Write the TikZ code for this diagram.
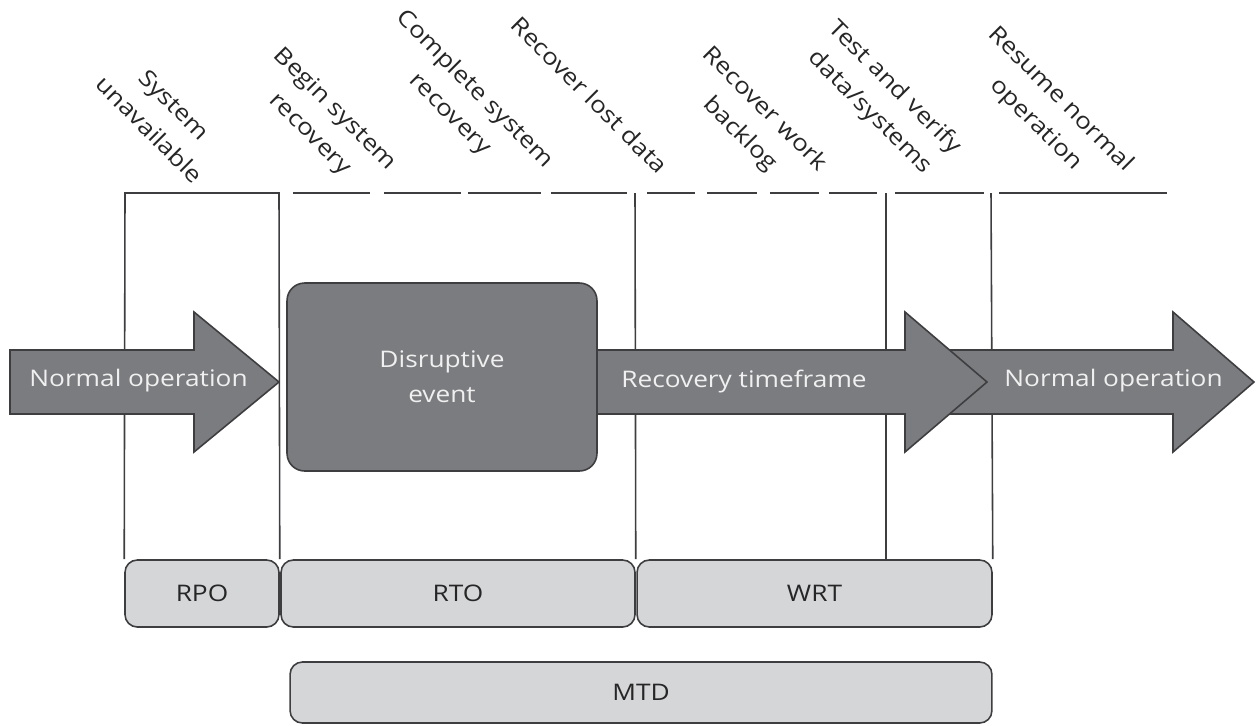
\documentclass[tikz,border=0pt]{standalone}
\usepackage{fontspec}
\setmainfont{Open Sans}[FakeStretch=1.15]
\usepackage{xcolor}
\usepackage{tikz}
\usetikzlibrary{positioning, calc}
\definecolor{arrowgray}{HTML}{7B7C7F}
\definecolor{edgegray}{HTML}{3E3E40}
\definecolor{boxgray}{HTML}{D5D6D8}
\definecolor{inkgray}{HTML}{262626}

\tikzset{
  divider/.style={draw=edgegray, line width=0.9pt},
  bigarrow/.style={fill=arrowgray, draw=edgegray, line width=0.9pt},
  arrowtext/.style={text=white!94!black, font=\fontsize{13}{16}\selectfont, inner sep=0pt},
  phasebox/.style={fill=boxgray, draw=edgegray, line width=0.9pt, rounded corners=7pt,
                   minimum height=1.34cm, text=inkgray, font=\fontsize{13}{16}\selectfont},
  milestone/.style={rotate=-45, align=center, inner sep=0pt, text=inkgray,
                    font=\fontsize{13}{20}\selectfont}
}

\begin{document}
\begin{tikzpicture}[x=0.02cm, y=-0.02cm]
  \useasboundingbox (0,0) rectangle (1256,725);

  % phase boxes at the bottom
  \node[phasebox, minimum width=3.08cm] (rpo) at (202,593.5) {RPO};
  \node[phasebox, minimum width=7.08cm] (rto) at (458,593.5) {RTO};
  \node[phasebox, minimum width=7.10cm] (wrt) at (814.5,593.5) {WRT};
  \node[phasebox, minimum width=14.04cm, minimum height=1.22cm] (mtd) at (641,692.5) {MTD};

  % time line and dividers
  \coordinate (top a) at (125,193);
  \coordinate (top b) at (279,193);
  \coordinate (top c) at (635,193);
  \coordinate (top d) at (886,193);
  \coordinate (top e) at (991,193);
  \draw[divider] (rpo.north west) -- (top a) -- (top b) -- (rpo.north east);
  \draw[divider] (top c) -- (rto.north east);
  \draw[divider] (top d) -- (top d |- wrt.north);
  \draw[divider] (top e) -- (wrt.north east);
  \foreach \a/\b in {293/370, 384/461, 468/541, 551/627, 647/695, 707/757,
                     770/819, 829/877, 895/984, 999/1167}
    \draw[divider] (\a,193) -- (\b,193);

  % flow arrows
  \draw[bigarrow] (10,350) -- (194,350) -- (194,312) -- (279,382)
    -- (194,452) -- (194,414) -- (10,414) -- cycle;
  \draw[bigarrow] (945,350) -- (1173,350) -- (1173,312) -- (1254,382)
    -- (1173,452) -- (1173,414) -- (945,414) -- cycle;
  \draw[bigarrow] (590,350) -- (905,350) -- (905,312) -- (987,382)
    -- (905,452) -- (905,414) -- (590,414) -- cycle;
  \node[arrowtext] (normal1) at (138.5,381) {Normal operation};
  \node[arrowtext] (recovery) at (744,381) {Recovery timeframe};
  \node[arrowtext] (normal2) at (1113.5,381) {Normal operation};

  \node[fill=arrowgray, draw=edgegray, line width=0.9pt, rounded corners=10pt,
        minimum width=6.2cm, minimum height=3.76cm, align=center,
        text=white!94!black, font=\fontsize{13}{20}\selectfont] (event) at (442,377)
        {Disruptive\\event};

  % milestones
  \node[milestone] (m1) at (162,117) {System\\unavailable};
  \node[milestone] (m2) at (322,122) {Begin system\\recovery};
  \node[milestone] (m3) at (462,102) {Complete system\\recovery};
  \node[milestone] (m4) at (590,95) {Recover lost data};
  \node[milestone] (m5) at (752,122) {Recover work\\backlog};
  \node[milestone] (m6) at (882,100) {Test and verify\\data/systems};
  \node[milestone] (m7) at (1048,112) {Resume normal\\operation};
\end{tikzpicture}
\end{document}
